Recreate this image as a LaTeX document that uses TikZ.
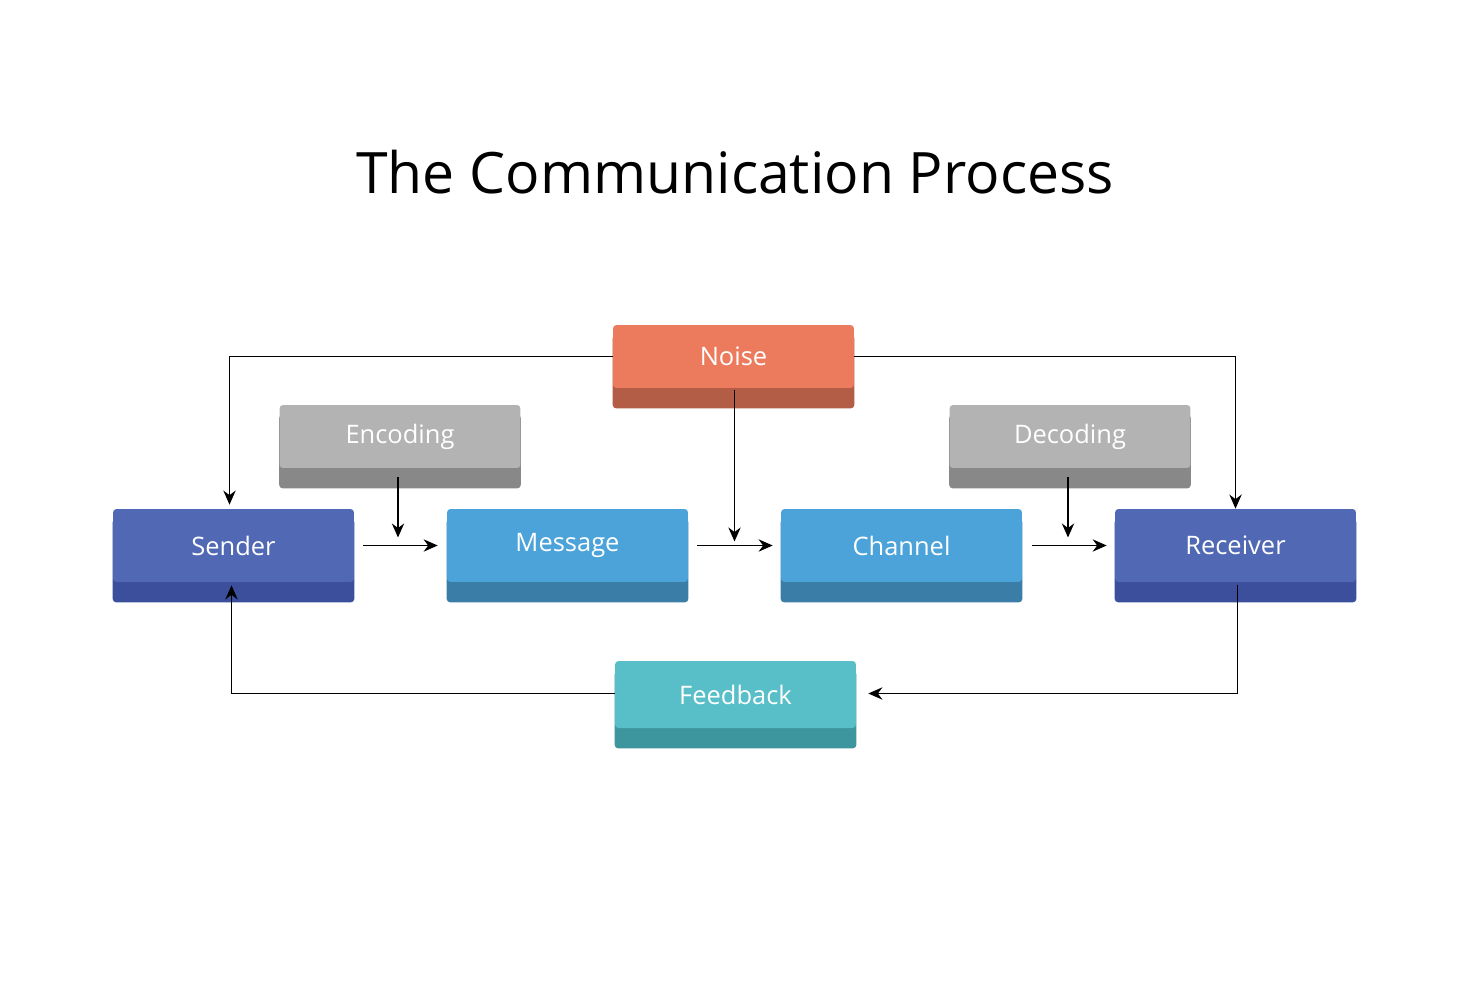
\documentclass[tikz,border=0pt]{standalone}
\usepackage{fontspec}
\setmainfont{Open Sans}
\usetikzlibrary{arrows.meta,calc}
\pgfdeclarelayer{background}
\pgfsetlayers{background,main}
\definecolor{noiseT}{HTML}{EC7B5E}\definecolor{noiseB}{HTML}{B35D47}
\definecolor{grayT}{HTML}{B3B3B3}\definecolor{grayB}{HTML}{888888}
\definecolor{navyT}{HTML}{5169B4}\definecolor{navyB}{HTML}{3B4F9D}
\definecolor{blueT}{HTML}{4BA3D9}\definecolor{blueB}{HTML}{3A7EA8}
\definecolor{tealT}{HTML}{58BEC7}\definecolor{tealB}{HTML}{3D959D}
\tikzset{
  box/.style={minimum width=4.82cm, inner sep=0pt, rounded corners=2pt,
    text=white, font=\fontsize{14.5}{16}\selectfont},
  link/.style={black, line width=0.9pt, -{Stealth[length=8pt,width=7pt]}},
}
\newcommand{\strip}[2]{\begin{pgfonlayer}{background}
  \fill[#2, rounded corners=2pt] ($(#1.north west)+(0,10)$) rectangle ($(#1.south east)+(0,20)$);
\end{pgfonlayer}}
\begin{document}
\begin{tikzpicture}[x=0.02cm,y=-0.02cm]
\begin{pgfonlayer}{background}
\fill[white] (0,0) rectangle (1470,980);
\end{pgfonlayer}
\useasboundingbox (0,0) rectangle (1470,980);
\node[font=\fontsize{32.5}{38}\selectfont] (title) at (735,172) {The Communication Process};

\node[box, fill=noiseT, minimum height=1.26cm] (noise) at (733.5,356.5) {Noise};
\node[box, fill=grayT, minimum height=1.26cm] (enc) at (400,436.5) {Encoding};
\node[box, fill=grayT, minimum height=1.26cm] (dec) at (1070,436.5) {Decoding};
\node[box, fill=navyT, minimum height=1.46cm] (sender) at (233.5,545.5) {Sender};
\node[box, fill=blueT, minimum height=1.46cm] (message) at (567.5,545.5) {Message};
\node[box, fill=blueT, minimum height=1.46cm] (channel) at (901.5,545.5) {Channel};
\node[box, fill=navyT, minimum height=1.46cm] (receiver) at (1235.5,545.5) {Receiver};
\node[box, fill=tealT, minimum height=1.34cm] (feedback) at (735.5,694.5) {Feedback};
\strip{noise}{noiseB}\strip{enc}{grayB}\strip{dec}{grayB}
\strip{sender}{navyB}\strip{message}{blueB}\strip{channel}{blueB}
\strip{receiver}{navyB}\strip{feedback}{tealB}

\draw[link] (noise.west) -| ($(sender.north)+(-4,-4)$);
\draw[link] (noise.east) -| (receiver.north);
\draw[link] ($(noise.south)+(1,2)$) -- ($(noise.south |- sender.east)+(1,-4)$);
\draw[link] ($(enc.south)+(-2,9)$) -- ($(enc.south |- sender.east)+(-2,-8)$);
\draw[link] ($(dec.south)+(-2,9)$) -- ($(dec.south |- sender.east)+(-2,-8)$);
\draw[link] ($(sender.east)+(9,0)$) -- ($(message.west)+(-9,0)$);
\draw[link] ($(message.east)+(9,0)$) -- ($(channel.west)+(-8,0)$);
\draw[link] ($(channel.east)+(10,0)$) -- ($(receiver.west)+(-8,0)$);
\draw[link] ($(receiver.south)+(2,3)$) |- ($(feedback.east)+(12,-1)$);
\draw[link] ($(feedback.west)+(0,-1)$) -| ($(sender.south)+(-2,3)$);
\end{tikzpicture}
\end{document}
